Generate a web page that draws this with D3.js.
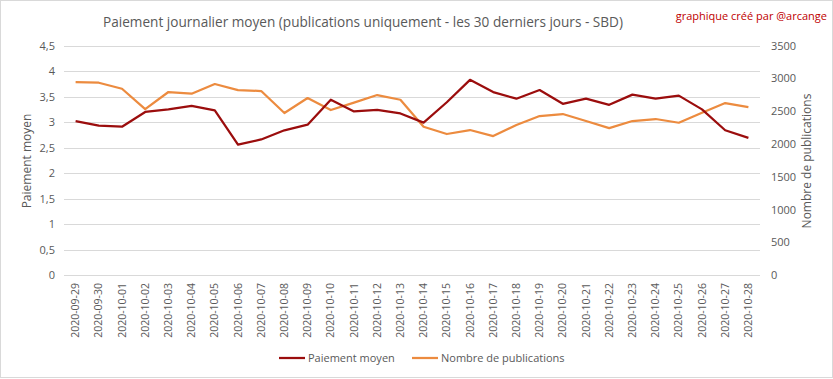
<!DOCTYPE html>
<meta charset="utf-8">
<style>
body { margin: 0; background: #fff; }
text { font-family: "Open Sans", "Noto Sans", sans-serif; fill: #595959; }
.grid line { stroke: #d9d9d9; stroke-width: 1px; }
.tick text { font-size: 11px; }
.line { fill: none; stroke-width: 2.25px; stroke-linejoin: round; }
</style>
<svg width="833" height="379"></svg>
<script src="https://d3js.org/d3.v7.min.js"></script>
<script>

var dates = ["2020-09-29","2020-09-30","2020-10-01","2020-10-02","2020-10-03","2020-10-04","2020-10-05",
  "2020-10-06","2020-10-07","2020-10-08","2020-10-09","2020-10-10","2020-10-11","2020-10-12","2020-10-13",
  "2020-10-14","2020-10-15","2020-10-16","2020-10-17","2020-10-18","2020-10-19","2020-10-20","2020-10-21",
  "2020-10-22","2020-10-23","2020-10-24","2020-10-25","2020-10-26","2020-10-27","2020-10-28"];

var paiement = [3.02, 2.93, 2.91, 3.20, 3.25, 3.32, 3.23, 2.56, 2.66, 2.84, 2.95, 3.44, 3.21, 3.24, 3.17,
  2.99, 3.39, 3.83, 3.59, 3.46, 3.63, 3.36, 3.46, 3.34, 3.54, 3.46, 3.52, 3.25, 2.84, 2.69];

var publications = [2945, 2935, 2843, 2533, 2793, 2767, 2915, 2823, 2808, 2472, 2701, 2518, 2630, 2747, 2675,
  2263, 2152, 2213, 2121, 2289, 2426, 2457, 2350, 2243, 2350, 2381, 2324, 2477, 2625, 2564];

var leftTicks = [0, 0.5, 1, 1.5, 2, 2.5, 3, 3.5, 4, 4.5];
var rightTicks = [0, 500, 1000, 1500, 2000, 2500, 3000, 3500];

var svg = d3.select("svg");

// border of the chart area
svg.append("rect")
    .attr("x", 0.5).attr("y", 0.5)
    .attr("width", 832).attr("height", 377)
    .attr("fill", "#fff")
    .attr("stroke", "#d9d9d9");

var x = d3.scaleBand().domain(dates).range([64, 760]);
var y = d3.scaleLinear().domain([0, 4.5]).range([275, 45.7]);
var y2 = d3.scaleLinear().domain([0, 3500]).range([275, 45.7]);

var fr = function(d) { return String(d).replace(".", ","); };

// gridlines
svg.append("g").attr("class", "grid")
  .selectAll("line")
  .data(leftTicks)
  .enter().append("line")
    .attr("x1", 64).attr("x2", 760)
    .attr("y1", function(d) { return Math.round(y(d)) + 0.5; })
    .attr("y2", function(d) { return Math.round(y(d)) + 0.5; });

// left axis
var yAxis = svg.append("g")
    .attr("transform", "translate(55,0)")
    .call(d3.axisLeft(y).tickValues(leftTicks).tickFormat(fr).tickSize(0));
yAxis.select(".domain").remove();
yAxis.selectAll("text").attr("x", 0);

// right axis
var y2Axis = svg.append("g")
    .attr("transform", "translate(771,0)")
    .call(d3.axisRight(y2).tickValues(rightTicks).tickFormat(d3.format("d")).tickSize(0));
y2Axis.select(".domain").remove();
y2Axis.selectAll("text").attr("x", 0);

// x axis
var xAxis = svg.append("g")
    .attr("transform", "translate(0,283)")
    .call(d3.axisBottom(x).tickSize(0));
xAxis.select(".domain").remove();
xAxis.selectAll("text")
    .attr("transform", "rotate(-90)")
    .attr("x", 0).attr("y", 0)
    .attr("dy", "0.35em")
    .style("font-size", "10.5px")
    .style("text-anchor", "end");

var cx = function(d, i) { return x(dates[i]) + x.bandwidth() / 2; };

svg.append("path")
    .datum(publications)
    .attr("class", "line")
    .attr("stroke", "#ec8b3f")
    .attr("d", d3.line().x(cx).y(function(d) { return y2(d); }));

svg.append("path")
    .datum(paiement)
    .attr("class", "line")
    .attr("stroke", "#9b0d0d")
    .attr("d", d3.line().x(cx).y(function(d) { return y(d); }));

// titles
svg.append("text")
    .attr("x", 363).attr("y", 27)
    .attr("text-anchor", "middle")
    .style("font-size", "13.6px")
    .text("Paiement journalier moyen (publications uniquement  - les 30 derniers jours - SBD)");

svg.append("text")
    .attr("x", 827).attr("y", 20)
    .attr("text-anchor", "end")
    .style("font-size", "11px")
    .style("fill", "#c00000")
    .text("graphique créé par @arcange");

svg.append("text")
    .attr("transform", "translate(31,161) rotate(-90)")
    .attr("text-anchor", "middle")
    .style("font-size", "12px")
    .text("Paiement moyen");

svg.append("text")
    .attr("transform", "translate(811,161) rotate(-90)")
    .attr("text-anchor", "middle")
    .style("font-size", "12px")
    .text("Nombre de publications");

// legend
var legend = [
  { name: "Paiement moyen", color: "#9b0d0d", x: 279 },
  { name: "Nombre de publications", color: "#ec8b3f", x: 412 }
];
var lg = svg.selectAll(".legend")
    .data(legend)
    .enter().append("g")
    .attr("transform", function(d) { return "translate(" + d.x + ",358)"; });
lg.append("line")
    .attr("x1", 0).attr("x2", 26)
    .attr("stroke", function(d) { return d.color; })
    .attr("stroke-width", 2.25);
lg.append("text")
    .attr("x", 29).attr("dy", "0.35em")
    .style("font-size", "11px")
    .text(function(d) { return d.name; });

</script>
